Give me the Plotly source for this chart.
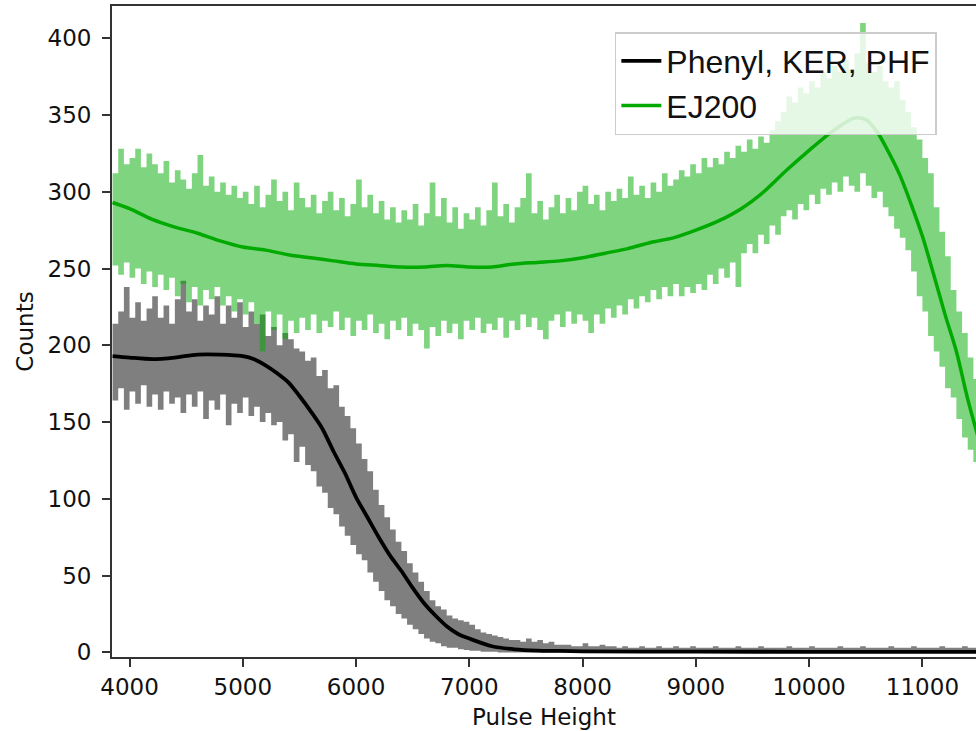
import plotly.graph_objects as go

# ---- data ----
# bin positions of the noisy histograms (50-unit steps)
bins = list(range(3850, 11501, 50))

# EJ200 noisy histogram: upper / lower envelope of the spiky trace
ej200_high = [
    312, 328, 318, 322, 328, 316, 325, 318, 312, 320,
    306, 314, 308, 302, 312, 324, 304, 310, 300, 306,
    298, 304, 296, 300, 292, 304, 290, 298, 308, 294,
    300, 288, 306, 296, 290, 298, 286, 294, 300, 288,
    296, 284, 292, 308, 290, 298, 286, 294, 282, 290,
    280, 288, 282, 292, 278, 286, 306, 284, 296, 280,
    290, 276, 286, 282, 290, 278, 288, 306, 284, 292,
    280, 290, 296, 312, 286, 294, 282, 290, 298, 286,
    296, 288, 300, 304, 292, 298, 288, 300, 294, 302,
    296, 310, 298, 304, 296, 306, 300, 312, 304, 308,
    314, 310, 318, 312, 322, 316, 322, 318, 326, 322,
    330, 326, 334, 328, 336, 332, 340, 346, 352, 362,
    358, 368, 364, 372, 368, 378, 374, 382, 378, 386,
    380, 390, 410, 384, 378, 382, 372, 368, 372, 360,
    352, 342, 334, 322, 312, 290, 274, 258, 236, 222,
    208, 192, 178, 166,
]
ej200_low = [
    252, 246, 254, 244, 250, 240, 248, 238, 246, 236,
    244, 232, 240, 228, 238, 226, 236, 230, 238, 226,
    232, 222, 230, 220, 228, 214, 196, 222, 210, 220,
    204, 216, 208, 218, 210, 220, 208, 216, 212, 222,
    210, 218, 206, 216, 210, 220, 208, 214, 204, 216,
    210, 218, 206, 214, 210, 198, 212, 206, 216, 208,
    214, 204, 216, 210, 218, 208, 214, 210, 218, 205,
    216, 210, 220, 212, 218, 210, 204, 216, 220, 212,
    222, 214, 220, 216, 208, 220, 214, 224, 218, 226,
    220, 230, 224, 232, 228, 236, 230, 238, 232, 240,
    232, 238, 234, 240, 236, 246, 240, 250, 244, 254,
    238, 260, 266, 260, 272, 266, 278, 272, 284, 288,
    282, 292, 288, 298, 292, 302, 298, 306, 300, 310,
    304, 300, 312, 304, 296, 300, 290, 284, 276, 270,
    262, 248, 232, 222, 206, 196, 186, 172, 166, 152,
    140, 132, 124, 116,
]

# Phenyl, KER, PHF noisy histogram: upper / lower envelope
phenyl_high = [
    214, 222, 238, 218, 228, 216, 224, 232, 218, 226,
    214, 230, 242, 222, 230, 216, 226, 220, 232, 214,
    226, 218, 228, 212, 222, 214, 220, 206, 212, 200,
    208, 204, 198, 196, 190, 192, 180, 184, 172, 174,
    160, 154, 146, 136, 126, 118, 106, 96, 88, 80,
    72, 66, 58, 52, 46, 40, 34, 30, 28, 24,
    22, 21, 20, 18, 15, 13, 12, 11, 10, 9,
    8, 8, 7, 9, 7, 8, 6, 7, 5, 5,
    5, 4, 4, 6, 4, 4, 5, 4, 4, 3,
    4, 3, 3, 4, 3, 3, 4, 3, 3, 4,
    3, 3, 4, 3, 3, 3, 4, 3, 3, 3,
    4, 3, 3, 3, 4, 3, 3, 3, 3, 4,
    3, 3, 3, 4, 3, 3, 3, 3, 4, 3,
    3, 3, 4, 3, 3, 3, 3, 4, 3, 3,
    3, 4, 3, 3, 3, 3, 4, 3, 3, 3,
    4, 3, 3, 3,
]
phenyl_low = [
    164, 172, 158, 170, 162, 174, 160, 168, 158, 170,
    162, 166, 156, 168, 160, 170, 152, 164, 158, 168,
    148, 162, 156, 166, 154, 160, 150, 156, 148, 150,
    138, 142, 124, 134, 122, 118, 108, 104, 94, 90,
    82, 76, 70, 64, 60, 52, 46, 40, 34, 30,
    25, 22, 18, 15, 12, 9, 7, 6, 4, 3,
    3, 2, 1.5, 1, 1, 0.5, 0.5, 0.5, 0, 0,
    0, 0, 0, 0, 0, 0, 0, 0, 0, 0,
    0, 0, 0, 0, 0, 0, 0, 0, 0, 0,
    0, 0, 0, 0, 0, 0, 0, 0, 0, 0,
    0, 0, 0, 0, 0, 0, 0, 0, 0, 0,
    0, 0, 0, 0, 0, 0, 0, 0, 0, 0,
    0, 0, 0, 0, 0, 0, 0, 0, 0, 0,
    0, 0, 0, 0, 0, 0, 0, 0, 0, 0,
    0, 0, 0, 0, 0, 0, 0, 0, 0, 0,
    0, 0, 0, 0,
]

# smoothed curves
ej200_fit_x = [3850, 4000, 4200, 4400, 4600, 4800, 5000, 5200, 5400, 5600,
               5800, 6000, 6200, 6400, 6600, 6800, 7000, 7200, 7400, 7600,
               7800, 8000, 8200, 8400, 8600, 8800, 9000, 9200, 9400, 9600,
               9800, 10000, 10200, 10400, 10500, 10600, 10700, 10800, 10900,
               11000, 11100, 11200, 11300, 11400, 11500]
ej200_fit = [293, 289, 282, 277, 273, 268, 264, 262, 259, 257,
             255, 253, 252, 251, 251, 252, 251, 251, 253, 254,
             255, 257, 260, 263, 267, 270, 275, 281, 289, 300,
             314, 327, 339, 348, 347, 339, 326, 311, 292,
             271, 246, 220, 196, 165, 138]

phenyl_fit_x = [3850, 4000, 4200, 4400, 4600, 4800, 5000, 5100, 5200, 5300,
                5400, 5500, 5600, 5700, 5800, 5900, 6000, 6100, 6200, 6300,
                6400, 6500, 6600, 6700, 6800, 6900, 7000, 7200, 7400, 7600,
                7800, 8000, 9000, 10000, 11500]
phenyl_fit = [193, 192, 191, 192, 194, 194, 193, 191, 187, 182,
              176, 167, 157, 146, 131, 117, 101, 88, 75, 63,
              53, 42, 32, 24, 17, 12, 9, 4, 2, 1.2,
              1, 0.7, 0.5, 0.4, 0.4]

x_ticks = [4000, 5000, 6000, 7000, 8000, 9000, 10000, 11000]
y_ticks = [0, 50, 100, 150, 200, 250, 300, 350, 400]

GREEN = "rgb(0,170,0)"

fig = go.Figure()

# noisy Phenyl histogram (band)
fig.add_trace(go.Scatter(x=bins, y=phenyl_low, mode="lines",
                         line=dict(width=0, shape="hv"),
                         showlegend=False, hoverinfo="skip"))
fig.add_trace(go.Scatter(x=bins, y=phenyl_high, mode="lines",
                         line=dict(width=0, shape="hv"),
                         fill="tonexty", fillcolor="rgba(0,0,0,0.5)",
                         showlegend=False, hoverinfo="skip"))
# noisy EJ200 histogram (band)
fig.add_trace(go.Scatter(x=bins, y=ej200_low, mode="lines",
                         line=dict(width=0, shape="hv"),
                         showlegend=False, hoverinfo="skip"))
fig.add_trace(go.Scatter(x=bins, y=ej200_high, mode="lines",
                         line=dict(width=0, shape="hv"),
                         fill="tonexty", fillcolor="rgba(0,170,0,0.5)",
                         showlegend=False, hoverinfo="skip"))
# smoothed curves
fig.add_trace(go.Scatter(x=phenyl_fit_x, y=phenyl_fit, mode="lines",
                         name="Phenyl, KER, PHF",
                         line=dict(color="black", width=3.8, shape="spline",
                                   smoothing=0.8)))
fig.add_trace(go.Scatter(x=ej200_fit_x, y=ej200_fit, mode="lines",
                         name="EJ200",
                         line=dict(color=GREEN, width=3.5, shape="spline",
                                   smoothing=0.8)))

tick_font_x = dict(family="DejaVu Sans", size=23, color="#111111")
tick_font_y = dict(family="DejaVu Sans", size=23, color="#111111")
title_font_x = dict(family="DejaVu Sans", size=23, color="#111111")
title_font_y = dict(family="DejaVu Sans", size=23, color="#111111")

fig.update_layout(
    width=976, height=731,
    margin=dict(l=112, r=0, t=6, b=74, autoexpand=False),
    paper_bgcolor="white", plot_bgcolor="white",
    showlegend=True,
    legend=dict(x=0.582, y=0.96, xanchor="left", yanchor="top",
                bgcolor="rgba(255,255,255,0.8)", bordercolor="#cccccc",
                borderwidth=1.5, itemwidth=40,
                entrywidth=355, entrywidthmode="pixels",
                font=dict(family="Liberation Sans, Arial", size=32,
                          color="#111111"),
                traceorder="normal"),
    xaxis=dict(range=[3845, 11473], tickmode="array", tickvals=x_ticks,
               ticktext=[str(v) for v in x_ticks],
               showgrid=False, zeroline=False, automargin=False,
               showline=True, linecolor="#333333", linewidth=1.8,
               mirror=True, ticks="outside", ticklen=8, tickwidth=1.6,
               tickcolor="#333333", tickfont=tick_font_x,
               title=dict(text="Pulse Height", font=title_font_x, standoff=10)),
    yaxis=dict(range=[-3, 421], tickmode="array", tickvals=y_ticks,
               ticktext=[str(v) for v in y_ticks],
               showgrid=False, zeroline=False, automargin=False,
               showline=True, linecolor="#333333", linewidth=1.8,
               mirror=False, ticks="outside", ticklen=8, tickwidth=1.6,
               tickcolor="#333333", tickfont=tick_font_y,
               ticklabelstandoff=6,
               title=dict(text="Counts", font=title_font_y, standoff=8)),
)

fig.write_html("out.html",
               config={"displayModeBar": False},
               post_script="document.body.style.margin='0';"
                           "document.body.style.overflow='hidden';")
